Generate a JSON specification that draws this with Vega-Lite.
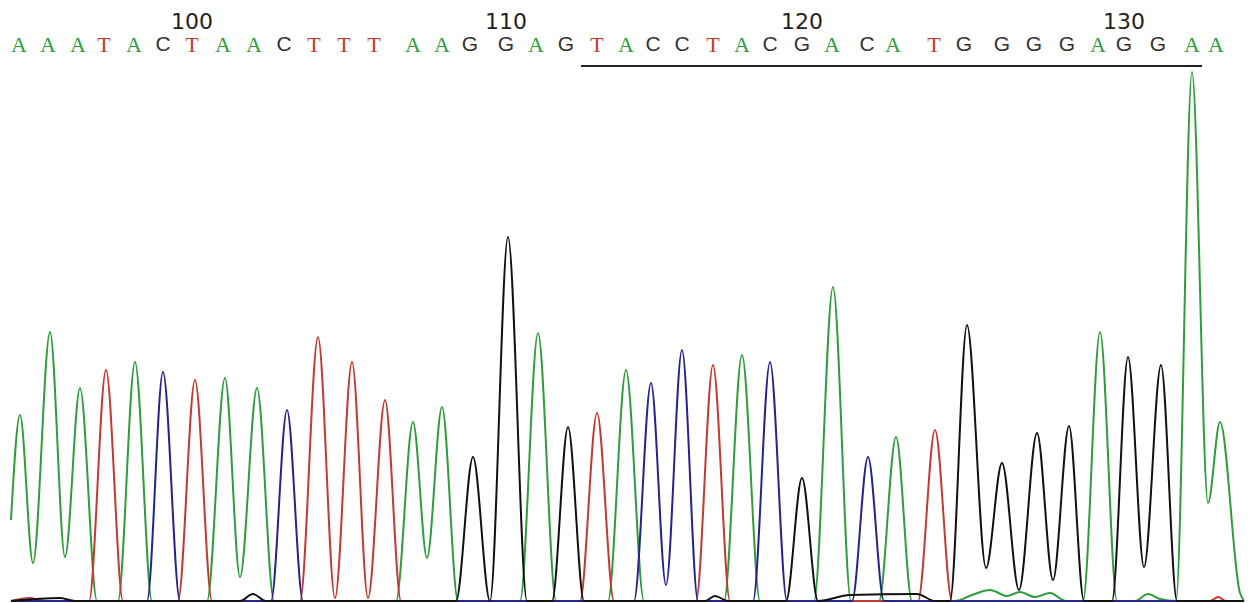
{
  "$schema": "https://vega.github.io/schema/vega-lite/v6.json",
  "width": 1248,
  "height": 603,
  "autosize": {"type": "fit", "contains": "padding"},
  "padding": 0,
  "background": "white",
  "config": {"view": {"stroke": null}},
  "datasets": {
    "bases": [
      {"pos": 94, "base": "A", "scan": 19},
      {"pos": 95, "base": "A", "scan": 48},
      {"pos": 96, "base": "A", "scan": 78},
      {"pos": 97, "base": "T", "scan": 104},
      {"pos": 98, "base": "A", "scan": 134},
      {"pos": 99, "base": "C", "scan": 163},
      {"pos": 100, "base": "T", "scan": 192},
      {"pos": 101, "base": "A", "scan": 223},
      {"pos": 102, "base": "A", "scan": 254},
      {"pos": 103, "base": "C", "scan": 284},
      {"pos": 104, "base": "T", "scan": 314},
      {"pos": 105, "base": "T", "scan": 344},
      {"pos": 106, "base": "T", "scan": 374},
      {"pos": 107, "base": "A", "scan": 413},
      {"pos": 108, "base": "A", "scan": 442},
      {"pos": 109, "base": "G", "scan": 470},
      {"pos": 110, "base": "G", "scan": 506},
      {"pos": 111, "base": "A", "scan": 536},
      {"pos": 112, "base": "G", "scan": 566},
      {"pos": 113, "base": "T", "scan": 597},
      {"pos": 114, "base": "A", "scan": 626},
      {"pos": 115, "base": "C", "scan": 653},
      {"pos": 116, "base": "C", "scan": 682},
      {"pos": 117, "base": "T", "scan": 713},
      {"pos": 118, "base": "A", "scan": 742},
      {"pos": 119, "base": "C", "scan": 770},
      {"pos": 120, "base": "G", "scan": 802},
      {"pos": 121, "base": "A", "scan": 832},
      {"pos": 122, "base": "C", "scan": 867},
      {"pos": 123, "base": "A", "scan": 893},
      {"pos": 124, "base": "T", "scan": 934},
      {"pos": 125, "base": "G", "scan": 964},
      {"pos": 126, "base": "G", "scan": 1002},
      {"pos": 127, "base": "G", "scan": 1034},
      {"pos": 128, "base": "G", "scan": 1067},
      {"pos": 129, "base": "A", "scan": 1098},
      {"pos": 130, "base": "G", "scan": 1124},
      {"pos": 131, "base": "G", "scan": 1158},
      {"pos": 132, "base": "A", "scan": 1192},
      {"pos": 133, "base": "A", "scan": 1216}
    ],
    "trace": [
      {"base": "A", "scan": 11, "signal": 81},
      {"base": "A", "scan": 20, "signal": 186},
      {"base": "A", "scan": 33, "signal": 38},
      {"base": "A", "scan": 50, "signal": 269},
      {"base": "A", "scan": 65, "signal": 44},
      {"base": "A", "scan": 80, "signal": 213},
      {"base": "A", "scan": 97, "signal": 0},
      {"base": "A", "scan": 118, "signal": 0},
      {"base": "A", "scan": 135, "signal": 239},
      {"base": "A", "scan": 152, "signal": 0},
      {"base": "A", "scan": 207, "signal": 0},
      {"base": "A", "scan": 225, "signal": 223},
      {"base": "A", "scan": 240, "signal": 24},
      {"base": "A", "scan": 257, "signal": 213},
      {"base": "A", "scan": 274, "signal": 0},
      {"base": "A", "scan": 396, "signal": 0},
      {"base": "A", "scan": 413, "signal": 179},
      {"base": "A", "scan": 427, "signal": 43},
      {"base": "A", "scan": 442, "signal": 194},
      {"base": "A", "scan": 458, "signal": 0},
      {"base": "A", "scan": 520, "signal": 0},
      {"base": "A", "scan": 538, "signal": 268},
      {"base": "A", "scan": 556, "signal": 0},
      {"base": "A", "scan": 608, "signal": 0},
      {"base": "A", "scan": 626, "signal": 231},
      {"base": "A", "scan": 644, "signal": 0},
      {"base": "A", "scan": 724, "signal": 0},
      {"base": "A", "scan": 742, "signal": 246},
      {"base": "A", "scan": 760, "signal": 0},
      {"base": "A", "scan": 814, "signal": 0},
      {"base": "A", "scan": 833, "signal": 314},
      {"base": "A", "scan": 851, "signal": 0},
      {"base": "A", "scan": 879, "signal": 0},
      {"base": "A", "scan": 896, "signal": 164},
      {"base": "A", "scan": 912, "signal": 0},
      {"base": "A", "scan": 955, "signal": 0},
      {"base": "A", "scan": 972, "signal": 6},
      {"base": "A", "scan": 990, "signal": 11},
      {"base": "A", "scan": 1007, "signal": 5},
      {"base": "A", "scan": 1020, "signal": 9},
      {"base": "A", "scan": 1035, "signal": 4},
      {"base": "A", "scan": 1050, "signal": 8},
      {"base": "A", "scan": 1066, "signal": 0},
      {"base": "A", "scan": 1083, "signal": 0},
      {"base": "A", "scan": 1100, "signal": 269},
      {"base": "A", "scan": 1117, "signal": 0},
      {"base": "A", "scan": 1135, "signal": 0},
      {"base": "A", "scan": 1148, "signal": 7},
      {"base": "A", "scan": 1160, "signal": 2},
      {"base": "A", "scan": 1176, "signal": 0},
      {"base": "A", "scan": 1192, "signal": 529},
      {"base": "A", "scan": 1208, "signal": 98},
      {"base": "A", "scan": 1220, "signal": 179},
      {"base": "A", "scan": 1240, "signal": 8},
      {"base": "A", "scan": 1244, "signal": 0},
      {"base": "T", "scan": 11, "signal": 0},
      {"base": "T", "scan": 30, "signal": 3},
      {"base": "T", "scan": 45, "signal": 0},
      {"base": "T", "scan": 89, "signal": 0},
      {"base": "T", "scan": 106, "signal": 231},
      {"base": "T", "scan": 123, "signal": 0},
      {"base": "T", "scan": 178, "signal": 0},
      {"base": "T", "scan": 195, "signal": 221},
      {"base": "T", "scan": 212, "signal": 0},
      {"base": "T", "scan": 300, "signal": 0},
      {"base": "T", "scan": 318, "signal": 264},
      {"base": "T", "scan": 335, "signal": 3},
      {"base": "T", "scan": 352, "signal": 239},
      {"base": "T", "scan": 368, "signal": 3},
      {"base": "T", "scan": 385, "signal": 201},
      {"base": "T", "scan": 401, "signal": 0},
      {"base": "T", "scan": 580, "signal": 0},
      {"base": "T", "scan": 597, "signal": 188},
      {"base": "T", "scan": 614, "signal": 0},
      {"base": "T", "scan": 696, "signal": 0},
      {"base": "T", "scan": 713, "signal": 236},
      {"base": "T", "scan": 730, "signal": 0},
      {"base": "T", "scan": 918, "signal": 0},
      {"base": "T", "scan": 935, "signal": 171},
      {"base": "T", "scan": 952, "signal": 0},
      {"base": "T", "scan": 1210, "signal": 0},
      {"base": "T", "scan": 1218, "signal": 4},
      {"base": "T", "scan": 1226, "signal": 0},
      {"base": "T", "scan": 1244, "signal": 0},
      {"base": "C", "scan": 11, "signal": 0},
      {"base": "C", "scan": 147, "signal": 0},
      {"base": "C", "scan": 163, "signal": 229},
      {"base": "C", "scan": 180, "signal": 0},
      {"base": "C", "scan": 271, "signal": 0},
      {"base": "C", "scan": 287, "signal": 191},
      {"base": "C", "scan": 303, "signal": 0},
      {"base": "C", "scan": 634, "signal": 0},
      {"base": "C", "scan": 651, "signal": 218},
      {"base": "C", "scan": 666, "signal": 16},
      {"base": "C", "scan": 682, "signal": 251},
      {"base": "C", "scan": 698, "signal": 0},
      {"base": "C", "scan": 753, "signal": 0},
      {"base": "C", "scan": 770, "signal": 239},
      {"base": "C", "scan": 787, "signal": 0},
      {"base": "C", "scan": 852, "signal": 0},
      {"base": "C", "scan": 868, "signal": 144},
      {"base": "C", "scan": 884, "signal": 0},
      {"base": "C", "scan": 1244, "signal": 0},
      {"base": "G", "scan": 11, "signal": 0},
      {"base": "G", "scan": 60, "signal": 3},
      {"base": "G", "scan": 75, "signal": 0},
      {"base": "G", "scan": 240, "signal": 0},
      {"base": "G", "scan": 253, "signal": 7},
      {"base": "G", "scan": 266, "signal": 0},
      {"base": "G", "scan": 456, "signal": 0},
      {"base": "G", "scan": 473, "signal": 144},
      {"base": "G", "scan": 490, "signal": 0},
      {"base": "G", "scan": 508, "signal": 364},
      {"base": "G", "scan": 527, "signal": 0},
      {"base": "G", "scan": 552, "signal": 0},
      {"base": "G", "scan": 568, "signal": 174},
      {"base": "G", "scan": 584, "signal": 0},
      {"base": "G", "scan": 705, "signal": 0},
      {"base": "G", "scan": 715, "signal": 5},
      {"base": "G", "scan": 728, "signal": 0},
      {"base": "G", "scan": 786, "signal": 0},
      {"base": "G", "scan": 802, "signal": 123},
      {"base": "G", "scan": 818, "signal": 0},
      {"base": "G", "scan": 850, "signal": 6},
      {"base": "G", "scan": 917, "signal": 7},
      {"base": "G", "scan": 935, "signal": 0},
      {"base": "G", "scan": 950, "signal": 0},
      {"base": "G", "scan": 967, "signal": 276},
      {"base": "G", "scan": 986, "signal": 33},
      {"base": "G", "scan": 1002, "signal": 138},
      {"base": "G", "scan": 1019, "signal": 11},
      {"base": "G", "scan": 1037, "signal": 168},
      {"base": "G", "scan": 1053, "signal": 21},
      {"base": "G", "scan": 1069, "signal": 175},
      {"base": "G", "scan": 1084, "signal": 0},
      {"base": "G", "scan": 1112, "signal": 0},
      {"base": "G", "scan": 1128, "signal": 244},
      {"base": "G", "scan": 1144, "signal": 34},
      {"base": "G", "scan": 1161, "signal": 236},
      {"base": "G", "scan": 1177, "signal": 0},
      {"base": "G", "scan": 1244, "signal": 0}
    ]
  },
  "layer": [
    {
      "data": {"name": "trace"},
      "mark": {"type": "line", "interpolate": "monotone", "strokeWidth": 2, "clip": true},
      "encoding": {
        "x": {"field": "scan", "type": "quantitative", "scale": {"domain": [0, 1248], "nice": false, "zero": false}, "axis": null},
        "y": {"field": "signal", "type": "quantitative", "scale": {"domain": [-2, 601], "nice": false, "zero": false}, "axis": null},
        "color": {"field": "base", "type": "nominal", "scale": {"domain": ["A", "C", "G", "T"], "range": ["#2f9e3a", "#24248c", "#111111", "#c23a30"]}, "legend": null},
        "order": {"field": "scan", "type": "quantitative"}
      }
    },
    {
      "data": {"name": "bases"},
      "transform": [{"filter": "datum.base === 'A' || datum.base === 'T'"}],
      "mark": {"type": "text", "font": "Liberation Serif", "fontSize": 22, "baseline": "middle", "align": "center"},
      "encoding": {
        "x": {"field": "scan", "type": "quantitative", "scale": {"domain": [0, 1248], "nice": false, "zero": false}, "axis": null},
        "y": {"datum": 556, "type": "quantitative", "scale": {"domain": [-2, 601], "nice": false, "zero": false}, "axis": null},
        "text": {"field": "base", "type": "nominal"},
        "color": {"field": "base", "type": "nominal", "scale": {"domain": ["A", "C", "G", "T"], "range": ["#3da84a", "#24248c", "#111111", "#b03a34"]}, "legend": null}
      }
    },
    {
      "data": {"name": "bases"},
      "transform": [{"filter": "datum.base === 'C' || datum.base === 'G'"}],
      "mark": {"type": "text", "font": "Liberation Sans", "fontSize": 21, "baseline": "middle", "align": "center", "color": "#333333"},
      "encoding": {
        "x": {"field": "scan", "type": "quantitative", "scale": {"domain": [0, 1248], "nice": false, "zero": false}, "axis": null},
        "y": {"datum": 556, "type": "quantitative", "scale": {"domain": [-2, 601], "nice": false, "zero": false}, "axis": null},
        "text": {"field": "base", "type": "nominal"}
      }
    },
    {
      "data": {"name": "bases"},
      "transform": [{"filter": "datum.pos % 10 === 0"}],
      "mark": {"type": "text", "font": "DejaVu Sans", "fontSize": 22, "baseline": "middle", "align": "center", "color": "#222222"},
      "encoding": {
        "x": {"field": "scan", "type": "quantitative", "scale": {"domain": [0, 1248], "nice": false, "zero": false}, "axis": null},
        "y": {"datum": 579, "type": "quantitative", "scale": {"domain": [-2, 601], "nice": false, "zero": false}, "axis": null},
        "text": {"field": "pos", "type": "quantitative", "format": "d"}
      }
    },
    {
      "data": {"name": "bases"},
      "transform": [{"filter": "datum.pos >= 113 && datum.pos <= 132"}],
      "mark": {"type": "rule", "strokeWidth": 2, "color": "#222222", "xOffset": -16, "x2Offset": 10},
      "encoding": {
        "x": {"aggregate": "min", "field": "scan", "type": "quantitative", "scale": {"domain": [0, 1248], "nice": false, "zero": false}, "axis": null},
        "x2": {"aggregate": "max", "field": "scan"},
        "y": {"datum": 535, "type": "quantitative", "scale": {"domain": [-2, 601], "nice": false, "zero": false}, "axis": null}
      }
    }
  ]
}
